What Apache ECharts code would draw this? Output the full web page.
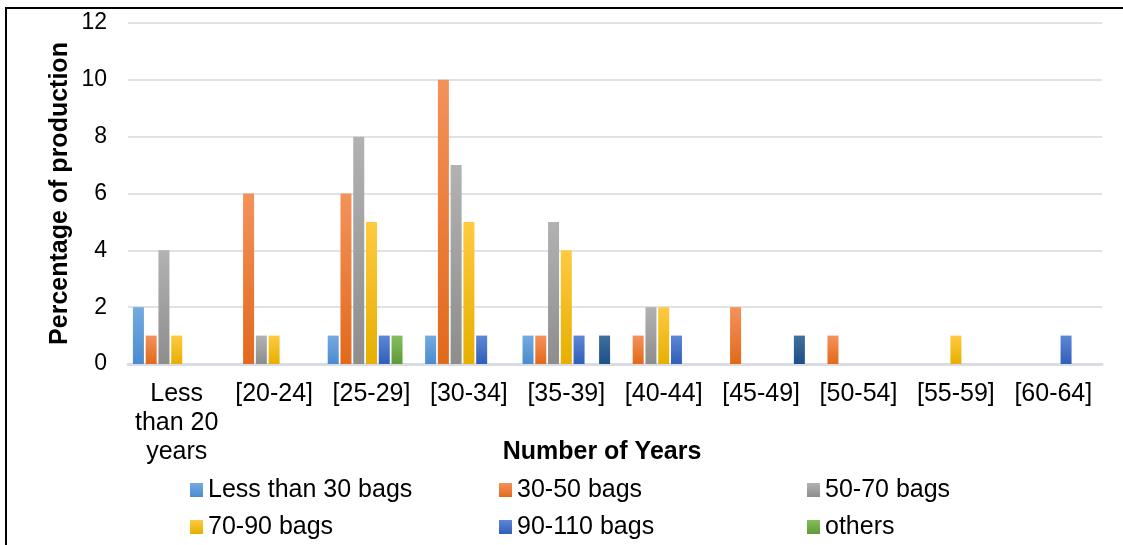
<!DOCTYPE html>
<html>
<head>
<meta charset="utf-8">
<script src="https://cdn.jsdelivr.net/npm/echarts@6/dist/echarts.min.js"></script>
<style>
html,body{margin:0;padding:0;background:#fff;}
#chart{width:1123px;height:545px;}
</style>
</head>
<body>
<div id="chart"></div>
<script>
const categories = ['Less than 20 years','[20-24]','[25-29]','[30-34]','[35-39]','[40-44]','[45-49]','[50-54]','[55-59]','[60-64]'];
const seriesNames = ['Less than 30 bags','30-50 bags','50-70 bags','70-90 bags','90-110 bags','others',''];
const lessThan30 = [2,0,1,1,1,0,0,0,0,0];
const bags30to50 = [1,6,6,10,1,1,2,1,0,0];
const bags50to70 = [4,1,8,7,5,2,0,0,0,0];
const bags70to90 = [1,1,5,5,4,2,0,0,1,0];
const bags90to110 = [0,0,1,1,1,1,0,0,0,1];
const others = [0,0,1,0,0,0,0,0,0,0];
const unlabeled = [0,0,0,0,1,0,1,0,0,0];
const yTicks = {min:0, max:12, interval:2};

const values = [lessThan30,bags30to50,bags50to70,bags70to90,bags90to110,others,unlabeled];
const grads = [
  ['#74abe0','#4a8bcf'],
  ['#f4925a','#e2691b'],
  ['#b2b2b2','#8d8d8d'],
  ['#ffca40','#e6af00'],
  ['#5e86d6','#2f5fba'],
  ['#86bd5e','#5c9c35'],
  ['#416f9d','#1b5089']
];
function grad(c){
  return new echarts.graphic.LinearGradient(0,0,0,1,[{offset:0,color:c[0]},{offset:1,color:c[1]}]);
}
const font = '"Liberation Sans", Arial, sans-serif';

const series = values.map((v,i)=>({
  name: seriesNames[i] || 'unlabeled',
  type:'bar',
  data:v,
  barWidth:11,
  barGap:'16%',
  itemStyle:{color:grad(grads[i])}
}));

// legend layout: 3 columns x 2 rows
const legendCols = [190,499,807];
const legendRows = [477.5,514.5];
const legendOrder = [[0,0],[1,0],[2,0],[0,1],[1,1],[2,1]];
const legends = seriesNames.slice(0,6).map((n,i)=>({
  data:[n], left:legendCols[legendOrder[i][0]], top:legendRows[legendOrder[i][1]],
  padding:0, itemWidth:13, itemHeight:14, icon:'rect',
  textStyle:{fontFamily:font,fontSize:25,color:'#000',lineHeight:23,padding:[0,0,0,0]}
}));

const chart = echarts.init(document.getElementById('chart'),null,{renderer:'canvas'});
chart.setOption({
  animation:false,
  backgroundColor:'#fff',
  grid:{left:128,right:21,top:23,bottom:181,containLabel:false},
  legend:legends,
  xAxis:{
    type:'category', data:categories,
    name:'Number of Years', nameLocation:'middle', nameGap:76, nameMoveOverlap:false,
    nameTextStyle:{fontFamily:font,fontSize:25,fontWeight:'bold',color:'#000',padding:[0,26,0,0]},
    axisLine:{lineStyle:{color:'#d9dde3',width:3}},
    axisTick:{show:false},
    axisLabel:{
      fontFamily:font,fontSize:25,color:'#000',margin:16,lineHeight:29,interval:0,
      formatter:v=> v==='Less than 20 years' ? 'Less\nthan 20\nyears' : v
    }
  },
  yAxis:{
    type:'value', min:yTicks.min, max:yTicks.max, interval:yTicks.interval,
    name:'Percentage of production', nameLocation:'middle', nameGap:55, nameMoveOverlap:false,
    nameTextStyle:{fontFamily:font,fontSize:25,fontWeight:'bold',color:'#000'},
    axisLine:{show:false}, axisTick:{show:false},
    axisLabel:{fontFamily:font,fontSize:23,color:'#000',margin:21},
    splitLine:{lineStyle:{color:'#dfe3e8',width:2}}
  },
  graphic:[{
    type:'polyline', silent:true,
    shape:{points:[[6,545],[6,8],[1123,8]]},
    style:{stroke:'#000',lineWidth:2,fill:null}
  }],
  series:series
});
</script>
</body>
</html>
